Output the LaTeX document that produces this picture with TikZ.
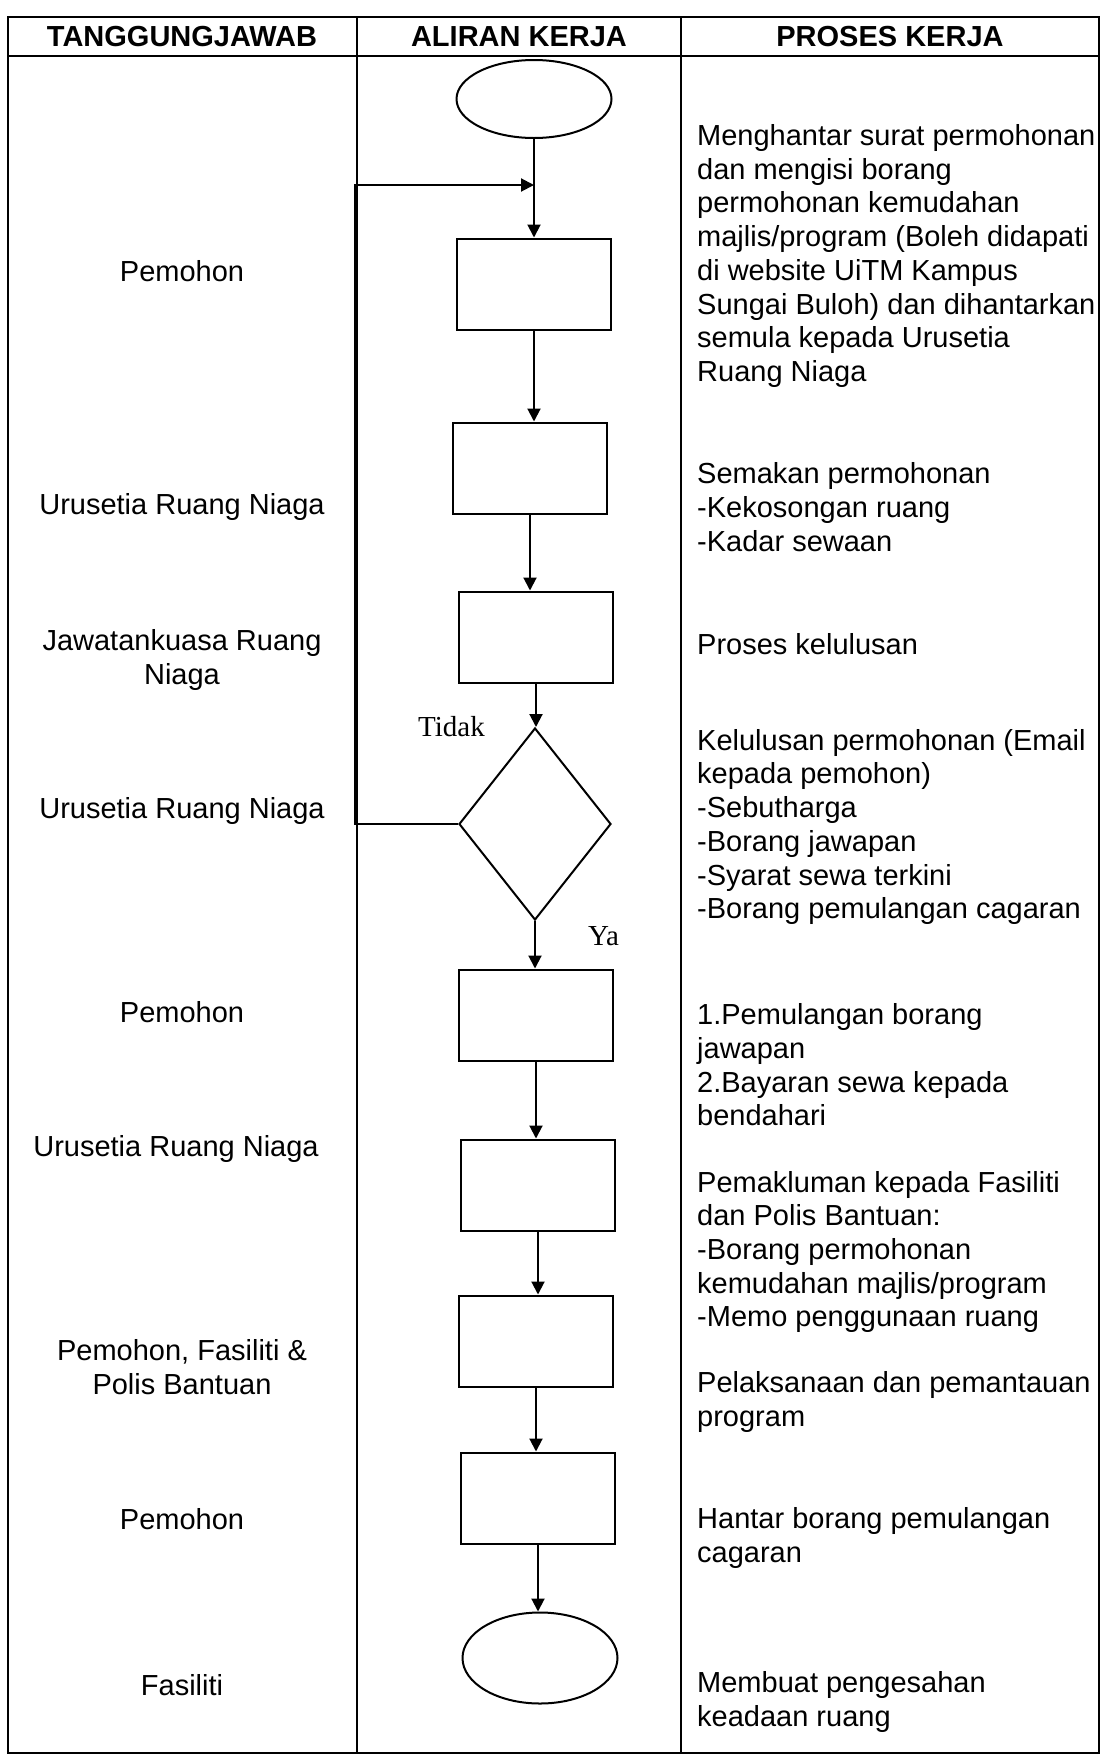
\documentclass[tikz,border=0pt]{standalone}
\usepackage{fontspec}
\setmainfont{Liberation Sans}
\newfontfamily\timesfont{Liberation Serif}
\usetikzlibrary{shapes.geometric,arrows.meta}

\begin{document}
\begin{tikzpicture}[
    x=1pt, y=-1pt,
    font=\fontsize{29}{33.7}\selectfont,
    gridline/.style={line width=2.5pt},
    headstyle/.style={font=\fontsize{29}{33.7}\selectfont\bfseries, inner sep=0pt},
    roletext/.style={align=center, inner sep=0pt},
    worktext/.style={align=left, anchor=west, inner sep=0pt},
    stepbox/.style={rectangle, draw, line width=2pt, minimum width=154pt, minimum height=91pt, inner sep=0pt},
    termstyle/.style={ellipse, draw, line width=2pt, minimum width=155pt, minimum height=91pt, inner sep=0pt},
    decstyle/.style={diamond, draw, line width=2pt, minimum width=152pt, minimum height=192pt, inner sep=0pt},
    answerstyle/.style={font=\fontsize{29}{33.7}\selectfont\timesfont, anchor=base west, inner sep=0pt},
    arrowstyle/.style={-{Triangle[length=13pt,width=13pt]}, line width=2pt}
]
    \useasboundingbox (0,0) rectangle (1102,1762);

    \draw[gridline] (8,17) rectangle (1099,1753);
    \draw[gridline] (8,56) -- (1099,56);
    \draw[gridline] (357,17) -- (357,1753);
    \draw[gridline] (681,17) -- (681,1753);

    \node[headstyle] (head1) at (182,36.5) {TANGGUNGJAWAB};
    \node[headstyle] (head2) at (519,36.5) {ALIRAN KERJA};
    \node[headstyle] (head3) at (890,36.5) {PROSES KERJA};

    \node[termstyle, minimum height=78pt] (start) at (534,99) {};
    \node[stepbox] (box1) at (534,284) {};
    \node[stepbox] (box2) at (530,468) {};
    \node[stepbox] (box3) at (536,637) {};
    \node[decstyle] (dec) at (535,824) {};
    \node[stepbox] (box4) at (536,1015) {};
    \node[stepbox] (box5) at (538,1185) {};
    \node[stepbox] (box6) at (536,1341) {};
    \node[stepbox] (box7) at (538,1498) {};
    \node[termstyle] (stop) at (540,1658) {};

    \coordinate (loopcorner) at (355,824);
    \coordinate (loopjoin) at (534,185);

    \draw[arrowstyle] (start.south) -- (start.south |- box1.north);
    \draw[arrowstyle] (box1.south) -- (box1.south |- box2.north);
    \draw[arrowstyle] (box2.south) -- (box2.south |- box3.north);
    \draw[arrowstyle] (box3.south) -- (box3.south |- dec.north);
    \draw[arrowstyle] (dec.south) -- (dec.south |- box4.north);
    \draw[arrowstyle] (box4.south) -- (box4.south |- box5.north);
    \draw[arrowstyle] (box5.south) -- (box5.south |- box6.north);
    \draw[arrowstyle] (box6.south) -- (box6.south |- box7.north);
    \draw[arrowstyle] (box7.south) -- (box7.south |- stop.north);
    \draw[arrowstyle] (dec.west) -- (loopcorner) |- (loopjoin);

    \node[answerstyle] (tidak) at (418,736) {Tidak};
    \node[answerstyle] (ya) at (588,945) {Ya};

    \node[roletext] (role1) at (182,271) {Pemohon};
    \node[roletext] (role2) at (182,507) {Urusetia Ruang Niaga};
    \node[roletext] (role3) at (182,660) {Jawatankuasa Ruang\\Niaga};
    \node[roletext] (role4) at (182,811) {Urusetia Ruang Niaga};
    \node[roletext] (role5) at (182,1012) {Pemohon};
    \node[roletext] (role6) at (176,1149) {Urusetia Ruang Niaga};
    \node[roletext] (role7) at (182,1367) {Pemohon, Fasiliti \&\\Polis Bantuan};
    \node[roletext] (role8) at (182,1519) {Pemohon};
    \node[roletext] (role9) at (182,1685) {Fasiliti};

    \node[worktext] (work1) at (697,256) {Menghantar surat permohonan\\dan mengisi borang\\permohonan kemudahan\\majlis/program (Boleh didapati\\di website UiTM Kampus\\Sungai Buloh) dan dihantarkan\\semula kepada Urusetia\\Ruang Niaga};
    \node[worktext] (work2) at (697,507) {Semakan permohonan\\-Kekosongan ruang\\-Kadar sewaan};
    \node[worktext] (work3) at (697,644) {Proses kelulusan};
    \node[worktext] (work4) at (697,827) {Kelulusan permohonan (Email\\kepada pemohon)\\-Sebutharga\\-Borang jawapan\\-Syarat sewa terkini\\-Borang pemulangan cagaran};
    \node[worktext] (work5) at (697,1065) {1.Pemulangan borang\\jawapan\\2.Bayaran sewa kepada\\bendahari};
    \node[worktext] (work6) at (697,1252) {Pemakluman kepada Fasiliti\\dan Polis Bantuan:\\-Borang permohonan\\kemudahan majlis/program\\-Memo penggunaan ruang};
    \node[worktext] (work7) at (697,1402) {Pelaksanaan dan pemantauan\\program};
    \node[worktext] (work8) at (697,1538) {Hantar borang pemulangan\\cagaran};
    \node[worktext] (work9) at (697,1702) {Membuat pengesahan\\keadaan ruang};
\end{tikzpicture}
\end{document}
